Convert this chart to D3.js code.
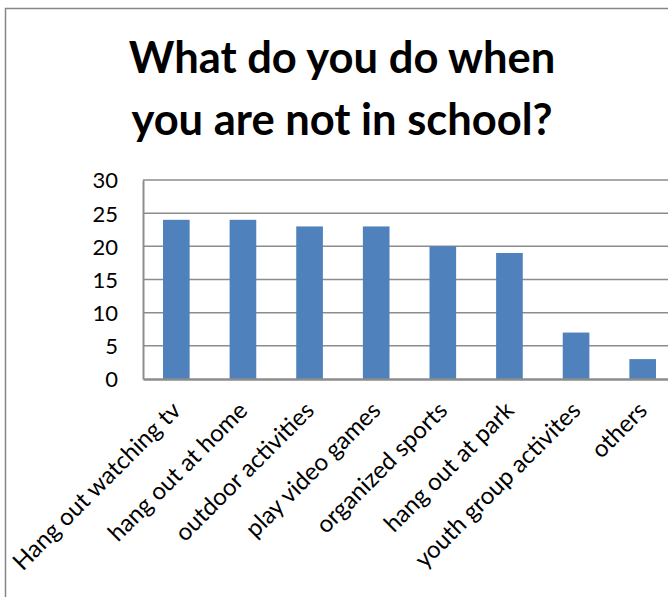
<!DOCTYPE html>
<html>
<head>
<meta charset="utf-8">
<script src="https://cdn.jsdelivr.net/npm/d3@7"></script>
<style>
  html, body { margin: 0; padding: 0; background: #fff; overflow: hidden; }
  svg { display: block; }
</style>
</head>
<body>
<svg id="chart" width="668" height="597"></svg>
<script>
// Survey answers: "What do you do when you are not in school?"
const categories = [
  "Hang out watching tv",
  "hang out at home",
  "outdoor activities",
  "play video games",
  "organized sports",
  "hang out at park",
  "youth group activites",
  "others"
];
const counts = [24, 24, 23, 23, 20, 19, 7, 3];
const yTicks = [0, 5, 10, 15, 20, 25, 30];
const titleLines = ["What do you do when", "you are not in school?"];

const svg = d3.select("#chart");
const FONT = "Lato, 'Open Sans', sans-serif";
const GRID = "#8c8c8c";

// chart frame (runs past the right and bottom edges of the view)
svg.append("rect")
  .attr("x", 5.5).attr("y", 8.5)
  .attr("width", 760).attr("height", 640)
  .attr("fill", "#fff")
  .attr("stroke", "#868686")
  .attr("stroke-width", 1.5);

// title
svg.append("g").selectAll("text")
  .data(titleLines)
  .join("text")
  .attr("x", 342)
  .attr("y", (d, i) => 73 + i * 62)
  .attr("text-anchor", "middle")
  .attr("font-family", FONT)
  .attr("font-weight", "bold")
  .attr("font-size", 43.5)
  .attr("fill", "#000")
  .text(d => d);

// plot area
const plot = { left: 143, right: 676, top: 180, bottom: 379 };

const x = d3.scaleBand()
  .domain(categories)
  .range([plot.left, plot.right])
  .paddingInner(0.6)
  .paddingOuter(0.3);

const y = d3.scaleLinear()
  .domain([0, 30])
  .range([plot.bottom, plot.top]);

// horizontal gridlines
svg.append("g")
  .selectAll("line")
  .data(yTicks.filter(t => t > 0))
  .join("line")
  .attr("x1", plot.left).attr("x2", plot.right)
  .attr("y1", d => y(d)).attr("y2", d => y(d))
  .attr("stroke", GRID)
  .attr("stroke-width", 1.5);

// bars
svg.append("g")
  .selectAll("rect")
  .data(categories)
  .join("rect")
  .attr("x", d => x(d))
  .attr("width", x.bandwidth())
  .attr("y", (d, i) => y(counts[i]))
  .attr("height", (d, i) => y(0) - y(counts[i]))
  .attr("fill", "#4f81bd");

// value axis
const yAxis = svg.append("g")
  .attr("transform", `translate(${plot.left},0)`)
  .call(d3.axisLeft(y).tickValues(yTicks).tickSize(0).tickPadding(25));
yAxis.select(".domain").attr("stroke", GRID).attr("stroke-width", 2);
yAxis.selectAll("text")
  .attr("font-family", FONT)
  .attr("font-size", 22)
  .attr("fill", "#000")
  .attr("dy", "0.36em");

// category axis
const xAxis = svg.append("g")
  .attr("transform", `translate(0,${plot.bottom})`)
  .call(d3.axisBottom(x).tickSize(0).tickPadding(0));
xAxis.select(".domain").attr("stroke", GRID).attr("stroke-width", 2.5);
xAxis.selectAll("text")
  .attr("font-family", FONT)
  .attr("font-size", 24)
  .attr("fill", "#000")
  .attr("text-anchor", "end")
  .attr("dy", null)
  .attr("y", 0)
  .attr("transform", "translate(6,33) rotate(-45)");
</script>
</body>
</html>
